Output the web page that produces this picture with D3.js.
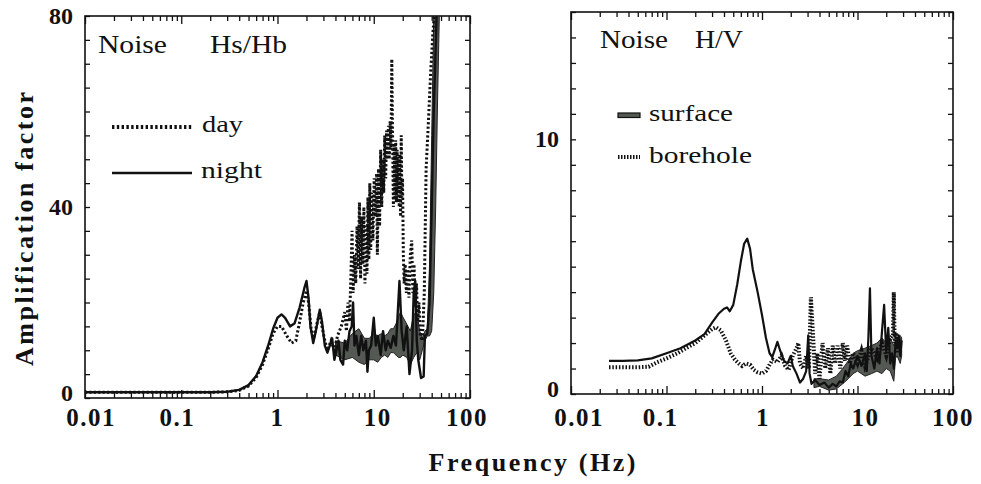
<!DOCTYPE html>
<html>
<head>
<meta charset="utf-8">
<script src="https://cdn.jsdelivr.net/npm/d3@7"></script>
<style>
  html, body { margin: 0; padding: 0; background: #fff; }
  svg { display: block; }
  text { fill: #111; }
</style>
</head>
<body>
<svg id="chart" width="981" height="484"></svg>
<script>
// ---- Left panel: noise spectral ratio Hs/Hb (surface / borehole) ----
const hsFreqTicks = [0.01, 0.1, 1, 10, 100];
const hsFreqTickLabels = ["0.01", "0.1", "1", "10", "100"];
const hsAmpTicks = [0, 40, 80];
const hsAmpTickLabels = ["0", "40", "80"];

const nightFreq = [0.01, 0.02, 0.05, 0.1, 0.2, 0.3, 0.4, 0.5, 0.6, 0.7, 0.8, 0.9, 1.0, 1.1, 1.2, 1.35, 1.5, 1.7, 1.9, 2.0, 2.1, 2.2, 2.35, 2.5, 2.75, 2.9, 3.1, 3.3, 3.5, 3.7, 3.9, 4.1, 4.3, 4.5, 4.8, 5.0, 5.3, 5.6, 5.9, 6.1, 6.3, 6.6, 7.0, 7.4, 7.8, 8.3, 8.6, 8.9, 9.4, 10, 10.5, 11, 11.8, 12.5, 13.3, 14, 15, 16, 17, 17.5, 18.5, 19.5, 20.5, 22, 23.5, 25, 26, 27, 28, 29, 31, 33, 34, 36, 38, 40, 42, 45];
const nightAmp  = [1.2, 1.2, 1.2, 1.2, 1.2, 1.3, 1.7, 2.7, 4.6, 7.5, 11, 14.5, 16.8, 17.5, 16.8, 15, 15.6, 19, 23, 24.5, 21, 15, 11.5, 14, 18.5, 16, 11, 9.5, 11, 12.5, 8, 10, 12, 8, 7, 12, 10, 14, 15, 20, 11, 13, 9, 13, 10, 12, 5.5, 10, 11, 16.8, 11, 13, 9, 14, 10, 12, 10.5, 13, 11, 15.5, 24.5, 14, 10, 15, 5, 10, 22, 24.5, 12, 8, 4.2, 4.5, 13, 13.5, 20, 40, 60, 80];

const dayFreq = [0.01, 0.02, 0.05, 0.1, 0.2, 0.3, 0.4, 0.5, 0.6, 0.7, 0.8, 0.9, 1.0, 1.1, 1.25, 1.4, 1.55, 1.7, 1.85, 2.0, 2.1, 2.25, 2.4, 2.6, 2.75, 2.9, 3.1, 3.3, 3.6, 3.9, 4.2, 4.6, 5.0, 5.2, 5.4, 5.6, 5.8, 5.95, 6.1, 6.3, 6.5, 6.7, 6.9, 7.1, 7.3, 7.5, 7.7, 7.9, 8.1, 8.3, 8.5, 8.7, 8.9, 9.1, 9.3, 9.5, 9.8, 10.1, 10.4, 10.7, 10.9, 11.2, 11.5, 11.8, 12.1, 12.4, 12.7, 13.0, 13.3, 13.6, 13.9, 14.2, 14.5, 14.8, 15.1, 15.4, 15.7, 16.0, 16.3, 16.6, 16.9, 17.2, 17.5, 17.8, 18.1, 18.4, 18.7, 19.0, 19.3, 19.6, 19.9, 20.3, 20.7, 21.2, 21.8, 22.5, 23.2, 24, 24.8, 25.5, 26.2, 27, 27.8, 28.6, 29.5, 30.5, 32, 33.5, 35, 37, 39, 41, 42.5];
const dayAmp  = [1.2, 1.2, 1.2, 1.2, 1.2, 1.3, 1.6, 2.5, 4.3, 7, 10.3, 13.5, 15, 15, 13, 11.5, 12, 16, 20, 22.5, 20, 14, 13, 16, 18, 15, 12, 10, 12, 10, 13, 15, 18, 14, 20, 16, 26, 35, 22, 30, 24, 36, 27, 41, 25, 38, 28, 40, 24, 36, 26, 42, 29, 45, 31, 43, 33, 46, 38, 47, 30, 48, 36, 52, 40, 50, 43, 55, 46, 56, 50, 57, 50, 58, 52, 71, 54, 40, 53, 42, 54, 41, 52, 43, 50, 40, 51, 38, 55, 42, 46, 30, 24, 28, 22, 27, 21, 30, 33, 22, 28, 19, 24, 16, 20, 13, 12, 22, 48, 58, 68, 76, 80];

// envelope of the dense night-time oscillations above 4 Hz
const nightBandFreq = [4, 5, 6, 7, 8, 9, 10, 11, 12, 13, 14, 15, 16, 17, 18, 19, 20, 22, 24, 26, 28, 30, 32, 34, 36, 38, 40, 42, 44, 46, 48];
const nightBandLow  = [9, 8, 8.5, 7.5, 7, 8, 8, 7.5, 8.5, 9, 8.5, 9.5, 9.5, 9, 8.5, 8.5, 9, 8.5, 7, 8.5, 9.5, 8, 10, 12, 13, 13, 14, 22, 40, 62, 80];
const nightBandHigh = [12, 11.5, 13.5, 14.5, 12.5, 12.5, 13.5, 13, 13.5, 13, 13.5, 14.5, 14.5, 15.5, 17, 18, 17, 15.5, 14, 17.5, 18, 14, 12.5, 14, 14.5, 28, 55, 80, 80, 80, 80];

// ---- Right panel: noise H/V ratio ----
const hvFreqTicks = [0.01, 0.1, 1, 10, 100];
const hvFreqTickLabels = ["0.01", "0.1", "1", "10", "100"];
const hvAmpTicks = [0, 10];
const hvAmpTickLabels = ["0", "10"];

const surfaceFreq = [0.025, 0.035, 0.05, 0.07, 0.1, 0.14, 0.2, 0.25, 0.3, 0.35, 0.4, 0.43, 0.46, 0.5, 0.55, 0.6, 0.65, 0.7, 0.75, 0.8, 0.9, 1.0, 1.1, 1.2, 1.28, 1.38, 1.45, 1.55, 1.7, 1.85, 2.0, 2.1, 2.3, 2.5, 2.7, 2.9, 3.05, 3.15, 3.3, 3.6, 4, 4.5, 5, 5.5, 6, 6.5, 7, 7.5, 8, 8.5, 9, 10, 11, 12, 12.5, 13, 13.5, 14, 15, 16, 17, 18, 19, 20, 21, 22, 23, 24, 25, 26, 27, 28, 29];
const surfaceAmp  = [1.3, 1.3, 1.32, 1.4, 1.6, 1.8, 2.1, 2.35, 2.8, 3.15, 3.35, 3.4, 3.25, 3.5, 4.3, 5.2, 5.9, 6.1, 5.7, 4.9, 4.0, 3.1, 2.2, 1.6, 1.45, 1.8, 2.05, 1.7, 1.3, 1.2, 1.5, 1.1, 0.8, 0.45, 0.6, 0.9, 2.3, 0.8, 0.4, 0.55, 0.35, 0.45, 0.25, 0.4, 0.3, 0.5, 0.45, 0.9, 0.7, 1.2, 1.0, 1.5, 1.1, 1.6, 0.9, 2.2, 4.15, 1.5, 1.0, 1.8, 1.2, 2.4, 3.5, 1.6, 2.6, 1.2, 1.6, 1.0, 2.0, 1.8, 2.3, 1.5, 2.1];

const boreholeFreq = [0.025, 0.035, 0.05, 0.065, 0.08, 0.1, 0.13, 0.16, 0.2, 0.25, 0.3, 0.33, 0.37, 0.42, 0.47, 0.52, 0.57, 0.62, 0.68, 0.75, 0.82, 0.9, 1.0, 1.1, 1.2, 1.3, 1.45, 1.6, 1.75, 1.9, 2.1, 2.3, 2.4, 2.5, 2.7, 2.9, 3.1, 3.25, 3.4, 3.6, 3.8, 4.0, 4.3, 4.6, 4.9, 5.2, 5.5, 5.8, 6.2, 6.6, 7.0, 7.4, 7.8, 8.3, 9, 10, 11, 12, 14, 16, 18, 20, 22, 23.5, 24, 24.5, 25.5, 26, 27, 28];
const boreholeAmp  = [1.05, 1.05, 1.05, 1.07, 1.25, 1.4, 1.6, 1.8, 2.0, 2.3, 2.55, 2.62, 2.5, 2.1, 1.6, 1.35, 1.2, 1.1, 1.2, 1.15, 0.95, 0.85, 0.8, 0.9, 1.15, 1.35, 1.25, 1.5, 1.1, 0.95, 1.5, 1.8, 2.0, 1.2, 1.0, 1.5, 1.0, 3.8, 2.5, 0.8, 1.6, 0.6, 2.0, 1.0, 1.8, 0.8, 1.9, 1.2, 1.9, 1.0, 2.0, 1.3, 1.9, 1.2, 1.6, 1.2, 1.7, 1.1, 1.8, 1.4, 2.0, 1.5, 2.2, 2.3, 4.0, 2.0, 2.4, 1.6, 2.2, 1.8];

// envelope of the dense surface oscillations above 3.5 Hz
const surfaceBandFreq = [3.5, 4, 5, 6, 7, 8, 9, 10, 12, 14, 16, 18, 20, 22, 24, 25, 26, 28, 29];
const surfaceBandLow  = [0.25, 0.3, 0.15, 0.2, 0.4, 0.6, 0.8, 0.9, 0.7, 0.8, 0.9, 0.8, 1.0, 0.9, 0.5, 1.4, 1.5, 1.2, 1.5];
const surfaceBandHigh = [0.6, 0.6, 0.55, 0.7, 1.0, 1.3, 1.6, 1.7, 1.8, 1.9, 2.0, 2.2, 2.0, 2.2, 1.9, 2.1, 2.2, 2.3, 2.2];

const zip = (xs, ys) => xs.map((x, i) => [x, ys[i]]);
const zip3 = (xs, lo, hi) => xs.map((x, i) => [x, lo[i], hi[i]]);

const svg = d3.select("#chart");
const SERIF = "'Liberation Serif', 'Times New Roman', Times, serif";
const BAND = "#545953";

function minorLogTicks(lo, hi) {
  const out = [];
  for (let e = Math.log10(lo); e < Math.log10(hi); e++) {
    for (let k = 2; k <= 9; k++) out.push(k * Math.pow(10, e));
  }
  return out;
}

function panel(opts) {
  const { id, x, y, yStep, freqTicks, freqLabels, ampTicks, ampLabels } = opts;
  const g = svg.append("g");
  const [x0, x1] = x.range();
  const [y0, y1] = y.range();

  g.append("clipPath").attr("id", id).append("rect")
    .attr("x", x0).attr("y", y1).attr("width", x1 - x0).attr("height", y0 - y1);

  // ticks on all four sides, pointing inwards
  const minor = minorLogTicks(x.domain()[0], x.domain()[1]);
  const yVals = d3.range(y.domain()[0], y.domain()[1] + 1e-9, yStep);
  const strip = sel => { sel.select(".domain").remove(); sel.selectAll("line").attr("stroke", "#111").attr("stroke-width", 1.3); };
  g.append("g").attr("transform", `translate(0,${y0})`)
    .call(d3.axisBottom(x).tickValues(minor).tickSize(-5).tickFormat("")).call(strip);
  g.append("g").attr("transform", `translate(0,${y0})`)
    .call(d3.axisBottom(x).tickValues(freqTicks).tickSize(-8).tickFormat("")).call(strip);
  g.append("g").attr("transform", `translate(0,${y1})`)
    .call(d3.axisTop(x).tickValues(minor).tickSize(-5).tickFormat("")).call(strip);
  g.append("g").attr("transform", `translate(0,${y1})`)
    .call(d3.axisTop(x).tickValues(freqTicks).tickSize(-8).tickFormat("")).call(strip);
  g.append("g").attr("transform", `translate(${x0},0)`)
    .call(d3.axisLeft(y).tickValues(yVals).tickSize(-5).tickFormat("")).call(strip);
  g.append("g").attr("transform", `translate(${x1},0)`)
    .call(d3.axisRight(y).tickValues(yVals).tickSize(-5).tickFormat("")).call(strip);

  g.append("rect").attr("x", x0).attr("y", y1).attr("width", x1 - x0).attr("height", y0 - y1)
    .attr("fill", "none").attr("stroke", "#111").attr("stroke-width", 1.6);

  // tick labels
  g.selectAll(".xl").data(freqTicks).join("text")
    .attr("x", (d, i) => x(d) + opts.xLabelShift[i]).attr("y", 426)
    .attr("text-anchor", "middle").attr("font-family", SERIF).attr("font-weight", "bold")
    .attr("font-size", 25).attr("letter-spacing", 1.5)
    .text((d, i) => freqLabels[i]);
  g.selectAll(".yl").data(ampTicks).join("text")
    .attr("x", x0 - 12).attr("y", d => y(d) - (d === 0 ? 5 : 0)).attr("dy", "0.34em")
    .attr("text-anchor", "end").attr("font-family", SERIF).attr("font-weight", "bold")
    .attr("font-size", 24)
    .text((d, i) => ampLabels[i]);

  const plot = g.append("g").attr("clip-path", `url(#${id})`);
  return { g, plot };
}

function stretchedText(g, txt, x, y, size, width, weight) {
  g.append("text").attr("x", x).attr("y", y)
    .attr("font-family", SERIF).attr("font-size", size)
    .attr("font-weight", weight || "normal")
    .attr("textLength", width).attr("lengthAdjust", "spacingAndGlyphs")
    .text(txt);
}

// ---------- Left panel ----------
const xL = d3.scaleLog().domain([0.01, 100]).range([85, 470]);
const yL = d3.scaleLinear().domain([0, 80]).range([398, 16]);
const left = panel({ id: "clipL", x: xL, y: yL, yStep: 5,
  freqTicks: hsFreqTicks, freqLabels: hsFreqTickLabels,
  ampTicks: hsAmpTicks, ampLabels: hsAmpTickLabels,
  xLabelShift: [6, -4, 0, 4, -3] });

const bandL = d3.area().x(d => xL(d[0])).y0(d => yL(d[1])).y1(d => yL(d[2]));
left.plot.append("path").datum(zip3(nightBandFreq, nightBandLow, nightBandHigh))
  .attr("d", bandL).attr("fill", BAND).attr("stroke", "#222").attr("stroke-width", 1);

const lineL = d3.line().x(d => xL(d[0])).y(d => yL(d[1]));
left.plot.append("path").datum(zip(nightFreq, nightAmp))
  .attr("d", lineL).attr("fill", "none").attr("stroke", "#111").attr("stroke-width", 2.4)
  .attr("stroke-linejoin", "round");
left.plot.append("path").datum(zip(dayFreq, dayAmp))
  .attr("d", lineL).attr("fill", "none").attr("stroke", "#111").attr("stroke-width", 3)
  .attr("stroke-dasharray", "2.2,2.2");

stretchedText(left.g, "Noise", 98, 53, 25, 69);
stretchedText(left.g, "Hs/Hb", 210, 53, 25, 77);

// legend
left.g.append("line").attr("x1", 112).attr("x2", 192).attr("y1", 127).attr("y2", 127)
  .attr("stroke", "#111").attr("stroke-width", 4).attr("stroke-dasharray", "2.4,2.4");
stretchedText(left.g, "day", 202, 132, 23, 41);
left.g.append("line").attr("x1", 112).attr("x2", 192).attr("y1", 173).attr("y2", 173)
  .attr("stroke", "#111").attr("stroke-width", 2.6);
stretchedText(left.g, "night", 201, 178, 23, 61);

// ---------- Right panel ----------
const xR = d3.scaleLog().domain([0.01, 100]).range([571, 953]);
const yR = d3.scaleLinear().domain([0, 15]).range([394, 12]);
const right = panel({ id: "clipR", x: xR, y: yR, yStep: 1,
  freqTicks: hvFreqTicks, freqLabels: hvFreqTickLabels,
  ampTicks: hvAmpTicks, ampLabels: hvAmpTickLabels,
  xLabelShift: [8, -6, 1, 8, 0] });

const bandR = d3.area().x(d => xR(d[0])).y0(d => yR(d[1])).y1(d => yR(d[2]));
right.plot.append("path").datum(zip3(surfaceBandFreq, surfaceBandLow, surfaceBandHigh))
  .attr("d", bandR).attr("fill", BAND).attr("stroke", "#222").attr("stroke-width", 1);

const lineR = d3.line().x(d => xR(d[0])).y(d => yR(d[1]));
right.plot.append("path").datum(zip(surfaceFreq, surfaceAmp))
  .attr("d", lineR).attr("fill", "none").attr("stroke", "#111").attr("stroke-width", 2.2)
  .attr("stroke-linejoin", "round");
right.plot.append("path").datum(zip(boreholeFreq, boreholeAmp))
  .attr("d", lineR).attr("fill", "none").attr("stroke", "#111").attr("stroke-width", 4)
  .attr("stroke-dasharray", "1.5,1.8");

stretchedText(right.g, "Noise", 600, 48, 25, 68);
stretchedText(right.g, "H/V", 695, 48, 25, 48);

right.g.append("rect").attr("x", 618).attr("y", 113).attr("width", 22).attr("height", 4.5)
  .attr("fill", BAND).attr("stroke", "#111").attr("stroke-width", 1.2);
stretchedText(right.g, "surface", 649, 121, 23, 84);
right.g.append("line").attr("x1", 618).attr("x2", 640).attr("y1", 157).attr("y2", 157)
  .attr("stroke", "#111").attr("stroke-width", 4).attr("stroke-dasharray", "1.5,1.5");
stretchedText(right.g, "borehole", 649, 163, 23, 103);

// ---------- Shared axis titles ----------
svg.append("text")
  .attr("transform", "translate(33,229) rotate(-90)")
  .attr("text-anchor", "middle").attr("font-family", SERIF).attr("font-weight", "bold")
  .attr("font-size", 26).attr("textLength", 274).attr("lengthAdjust", "spacing")
  .text("Amplification factor");
svg.append("text")
  .attr("x", 532).attr("y", 471)
  .attr("text-anchor", "middle").attr("font-family", SERIF).attr("font-weight", "bold")
  .attr("font-size", 26).attr("textLength", 207).attr("lengthAdjust", "spacing")
  .text("Frequency (Hz)");
</script>
</body>
</html>
